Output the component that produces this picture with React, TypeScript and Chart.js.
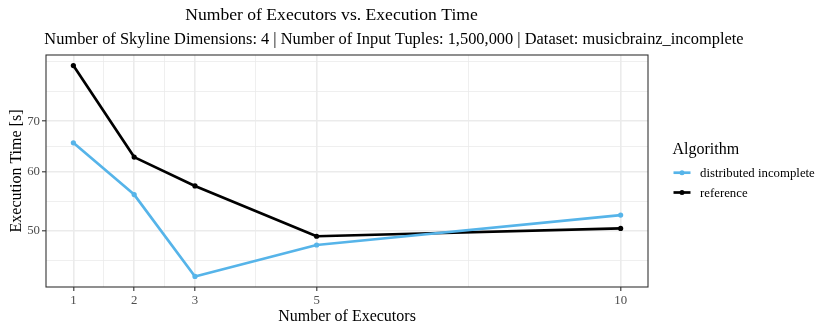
import React, { useEffect, useRef } from 'react';
import { Chart, registerables } from 'chart.js';

Chart.register(...registerables);

// ---- data ----
const executors = [1, 2, 3, 5, 10];
const distributedIncomplete = [65.5, 55.9, 43.5, 47.9, 52.5];
const referenceTimes = [83.0, 62.7, 57.4, 49.2, 50.4];
const seriesNames = ['distributed incomplete', 'reference'];
const seriesColors = ['#56B4E9', '#000000'];
const xTicks = [1, 2, 3, 5, 10];
const yTicks = [50, 60, 70];

const TITLE = 'Number of Executors vs. Execution Time';
const SUBTITLE = 'Number of Skyline Dimensions: 4 | Number of Input Tuples: 1,500,000 | Dataset: musicbrainz_incomplete';
const X_TITLE = 'Number of Executors';
const Y_TITLE = 'Execution Time [s]';
const LEGEND_TITLE = 'Algorithm';

const FONT = '"Liberation Serif", "Times New Roman", serif';

// ggplot-like helpers
function expandRange(lo: number, hi: number, f: (v: number) => number, inv: (v: number) => number) {
  const a = f(lo), b = f(hi);
  const d = (b - a) * 0.05;
  return [inv(a - d), inv(b + d)];
}

function minorBreaks(majors: number[], lo: number, hi: number, f: (v: number) => number, inv: (v: number) => number) {
  const b = majors.map(f);
  const bd = b[1] - b[0];
  const L = f(lo), H = f(hi);
  const bb = [...b];
  if (L < bb[0]) bb.unshift(bb[0] - bd);
  if (H > bb[bb.length - 1]) bb.push(bb[bb.length - 1] + bd);
  const out: number[] = [];
  for (let i = 0; i < bb.length - 1; i++) {
    out.push(bb[i]);
    out.push((bb[i] + bb[i + 1]) / 2);
  }
  out.push(bb[bb.length - 1]);
  return out
    .filter((v) => v >= L && v <= H && !b.some((m) => Math.abs(m - v) < 1e-9))
    .map(inv);
}

const lin = (v: number) => v;
const lg = (v: number) => Math.log10(v);
const ex = (v: number) => Math.pow(10, v);

const allY = [...distributedIncomplete, ...referenceTimes];
const [xMin, xMax] = expandRange(Math.min(...executors), Math.max(...executors), lin, lin);
const [yMin, yMax] = expandRange(Math.min(...allY), Math.max(...allY), lg, ex);
const xMinor = minorBreaks(xTicks, xMin, xMax, lin, lin);
const yMinor = minorBreaks(yTicks, yMin, yMax, lg, ex);

const isMajor = (list: number[], v: number) => list.some((m) => Math.abs(m - v) < 1e-6);

const GRID = '#EBEBEB';

const textPlugin = {
  id: 'ggtexts',
  afterDatasetsDraw(chart: any) {
    const ctx = chart.ctx;
    const a = chart.chartArea;
    ctx.save();
    ctx.strokeStyle = '#333333';
    ctx.lineWidth = 1.1;
    ctx.strokeRect(a.left, a.top, a.right - a.left, a.bottom - a.top);
    ctx.restore();
  },
  afterDraw(chart: any) {
    const ctx = chart.ctx;
    const a = chart.chartArea;
    ctx.save();
    ctx.fillStyle = '#000000';
    ctx.textBaseline = 'alphabetic';
    ctx.textAlign = 'center';
    ctx.font = `17.6px ${FONT}`;
    ctx.fillText(TITLE, 331.5, 20);
    ctx.font = `16.4px ${FONT}`;
    ctx.fillText(SUBTITLE, 394, 44);
    ctx.font = `16px ${FONT}`;
    ctx.fillText(X_TITLE, (a.left + a.right) / 2, 320.5);
    ctx.save();
    ctx.translate(20.5, (a.top + a.bottom) / 2);
    ctx.rotate(-Math.PI / 2);
    ctx.fillText(Y_TITLE, 0, 0);
    ctx.restore();

    // legend
    ctx.textAlign = 'left';
    ctx.font = `16px ${FONT}`;
    ctx.fillText(LEGEND_TITLE, 672.5, 153.5);
    ctx.font = `12.8px ${FONT}`;
    const ys = [172.7, 192.5];
    seriesNames.forEach((name, i) => {
      const y = ys[i];
      ctx.strokeStyle = seriesColors[i];
      ctx.lineWidth = 2.7;
      ctx.beginPath();
      ctx.moveTo(673.5, y);
      ctx.lineTo(690.5, y);
      ctx.stroke();
      ctx.fillStyle = seriesColors[i];
      ctx.beginPath();
      ctx.arc(682, y, 2.5, 0, Math.PI * 2);
      ctx.fill();
      ctx.fillStyle = '#000000';
      ctx.fillText(name, 700, y + 4);
    });
    ctx.restore();
  },
};

export default function App() {
  const ref = useRef<HTMLCanvasElement | null>(null);

  useEffect(() => {
    document.body.style.margin = '0';
    const canvas = ref.current;
    if (!canvas) return;
    const datasetValues = [distributedIncomplete, referenceTimes];
    const chart = new Chart(canvas, {
      type: 'line',
      data: {
        datasets: seriesNames.map((name, i) => ({
          label: name,
          data: executors.map((x, j) => ({ x, y: datasetValues[i][j] })),
          borderColor: seriesColors[i],
          backgroundColor: seriesColors[i],
          pointBackgroundColor: seriesColors[i],
          pointBorderWidth: 0,
          pointRadius: 2.6,
          borderWidth: 2.7,
          borderJoinStyle: 'round' as const,
          tension: 0,
          fill: false,
        })),
      },
      options: {
        animation: false,
        responsive: false,
        devicePixelRatio: 1,
        layout: { padding: { left: 0, right: 182, top: 55, bottom: 0 } },
        plugins: {
          legend: { display: false },
          title: { display: false },
          tooltip: { enabled: false },
        },
        scales: {
          x: {
            type: 'linear',
            min: xMin,
            max: xMax,
            border: { display: false },
            afterBuildTicks: (scale: any) => {
              scale.ticks = [...xTicks, ...xMinor].sort((p, q) => p - q).map((v) => ({ value: v }));
            },
            afterFit: (scale: any) => {
              scale.height = 45;
            },
            grid: {
              color: (c: any) => GRID,
              lineWidth: (c: any) => (c.tick && isMajor(xTicks, c.tick.value) ? 1.6 : 0.8),
              tickColor: (c: any) => (c.tick && isMajor(xTicks, c.tick.value) ? '#333333' : 'rgba(0,0,0,0)'),
              tickWidth: 1.1,
              tickLength: 4,
              drawTicks: true,
            },
            ticks: {
              autoSkip: false,
              maxRotation: 0,
              padding: 2,
              color: '#4D4D4D',
              font: { family: FONT, size: 12.8 },
              callback: (v: any) => (isMajor(xTicks, Number(v)) ? String(v) : ''),
            },
          },
          y: {
            type: 'logarithmic',
            min: yMin,
            max: yMax,
            border: { display: false },
            afterBuildTicks: (scale: any) => {
              scale.ticks = [...yTicks, ...yMinor].sort((p, q) => p - q).map((v) => ({ value: v }));
            },
            afterFit: (scale: any) => {
              scale.width = 46;
            },
            grid: {
              color: (c: any) => GRID,
              lineWidth: (c: any) => (c.tick && isMajor(yTicks, c.tick.value) ? 1.6 : 0.8),
              tickColor: (c: any) => (c.tick && isMajor(yTicks, c.tick.value) ? '#333333' : 'rgba(0,0,0,0)'),
              tickWidth: 1.1,
              tickLength: 4,
              drawTicks: true,
            },
            ticks: {
              autoSkip: false,
              padding: 2,
              color: '#4D4D4D',
              font: { family: FONT, size: 12.8 },
              callback: (v: any) => (isMajor(yTicks, Number(v)) ? String(v) : ''),
            },
          },
        },
      } as any,
      plugins: [textPlugin],
    });
    return () => chart.destroy();
  }, []);

  return (
    <div style={{ position: 'absolute', left: 0, top: 0, width: 830, height: 332, background: '#ffffff' }}>
      <canvas ref={ref} width={830} height={332} style={{ display: 'block', width: 830, height: 332 }} />
    </div>
  );
}
